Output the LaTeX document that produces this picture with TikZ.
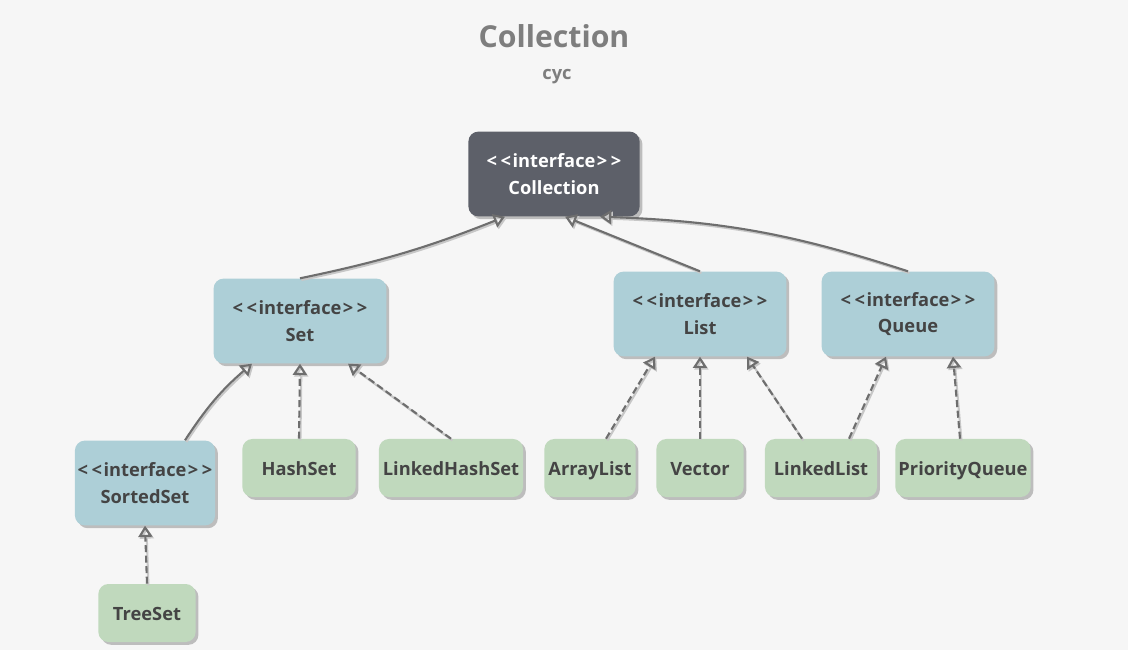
\documentclass[tikz,border=0pt]{standalone}
\usepackage{fontspec}
\setmainfont{Open Sans}
\usepackage{tikz}
\usetikzlibrary{arrows.meta,calc,shadows}
\definecolor{bgc}{HTML}{F6F6F6}
\definecolor{rootc}{HTML}{5D6069}
\definecolor{ifacec}{HTML}{ADCFD7}
\definecolor{clsc}{HTML}{C0D9BD}
\definecolor{txtc}{HTML}{444444}
\definecolor{linec}{HTML}{6E6E6E}
\definecolor{titlec}{HTML}{7E7E7E}
\newcommand{\iftag}{<\kern2.5pt<\kern1pt interface\kern1pt>\kern2.5pt>}

\begin{document}
\begin{tikzpicture}[x=0.025cm, y=-0.025cm, font=\bfseries,
		box/.style={rounded corners=0.25cm, inner sep=2pt, align=center, text=txtc,
			font=\fontsize{13}{19}\selectfont\bfseries,
			drop shadow={shadow xshift=2pt, shadow yshift=-2pt, fill=black!35, opacity=0.7}},
		root/.style={box, fill=rootc, text=white, minimum width=4.28cm, minimum height=2.12cm},
		iface/.style={box, fill=ifacec, minimum width=4.32cm, minimum height=2.12cm},
		cls/.style={box, fill=clsc, minimum height=1.45cm, text height=2.3ex, text depth=0.2ex},
		ext/.style={draw=linec, line width=1.5pt, -{Triangle[open, width=10pt, length=8pt]},
			preaction={draw=black!22, line width=1.5pt, transform canvas={shift={(1pt,-1.2pt)}}}},
		impl/.style={ext, dash pattern=on 5pt off 2.5pt}]
		\fill[bgc] (0,0) rectangle (1128,650);
		% titles
		\node[text=titlec, font=\fontsize{21.5}{24}\selectfont\bfseries] (title) at (554,36) {Collection};
		\node[text=titlec, font=\fontsize{13}{15}\selectfont\bfseries] (sub) at (557,77) {cyc};
		% interfaces
		\node[root] (coll) at (554,174) {\iftag\\Collection};
		\node[iface] (set) at (300,321) {\iftag\\Set};
		\node[iface] (list) at (700,314) {\iftag\\List};
		\node[iface] (queue) at (908,314) {\iftag\\Queue};
		\node[iface, minimum width=3.45cm] (sorted) at (145,483) {\iftag\\SortedSet};
		% classes
		\node[cls, minimum width=2.83cm] (hset) at (299,468) {HashSet};
		\node[cls, minimum width=3.6cm] (lhset) at (451,468) {LinkedHashSet};
		\node[cls, minimum width=2.28cm] (alist) at (590,468) {ArrayList};
		\node[cls, minimum width=2.18cm] (vec) at (700,468) {Vector};
		\node[cls, minimum width=2.8cm] (llist) at (821,468) {LinkedList};
		\node[cls, minimum width=3.38cm] (pq) at (963,468) {PriorityQueue};
		\node[cls, minimum width=2.43cm] (tset) at (147,613) {TreeSet};
		% extends
		\draw[ext] (set.north) to[bend right=5] ($(coll.south)+(-49,0)$);
		\draw[ext] (list.north) -- ($(coll.south)+(11,0)$);
		\draw[ext] (queue.north) to[bend right=8] ($(coll.south)+(46,0)$);
		\draw[ext] ($(sorted.north)+(40,0)$) to[bend left=8] ($(set.south)+(-48,0)$);
		% implements
		\draw[impl] (hset.north) -- (set.south);
		\draw[impl] (lhset.north) -- ($(set.south)+(48,0)$);
		\draw[impl] ($(alist.north)+(16,0)$) -- ($(list.south)+(-45,0)$);
		\draw[impl] (vec.north) -- (list.south);
		\draw[impl] ($(llist.north)+(-19,0)$) -- ($(list.south)+(47,0)$);
		\draw[impl] ($(llist.north)+(28,0)$) -- ($(queue.south)+(-22,0)$);
		\draw[impl] ($(pq.north)+(-3,0)$) -- ($(queue.south)+(45,0)$);
		\draw[impl] (tset.north) -- (sorted.south);
	\end{tikzpicture}
\end{document}
